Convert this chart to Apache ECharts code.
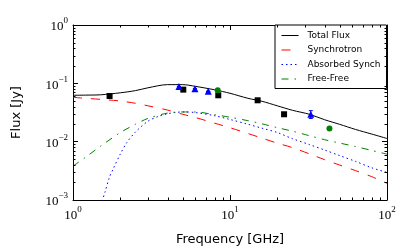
<!DOCTYPE html>
<html><head><meta charset="utf-8">
<script src="https://cdn.jsdelivr.net/npm/echarts@6/dist/echarts.min.js"></script>
<style>html,body{margin:0;padding:0;background:#fff}#c{width:407px;height:251px}</style>
</head><body><div id="c"></div>
<script>
// ---- data ----
const freqs = [1,1.2,1.5,2,2.5,3,4,5,6,8,10,13,16,20,25,32,40,50,63,80,100];
const totalFlux = [0.0624,0.0628,0.0636,0.0688,0.0750,0.0838,0.0950,0.0950,0.0889,0.0774,0.0675,0.0554,0.0492,0.0412,0.0345,0.0295,0.0238,0.0198,0.0162,0.0135,0.01134];
const synchrotron = [0.0576,0.0554,0.0531,0.0498,0.0455,0.0412,0.0348,0.0295,0.0260,0.0207,0.01735,0.0138,0.01148,0.00943,0.00790,0.00619,0.00492,0.00397,0.00319,0.00251,0.00193];
const freeFree = [0.00381,0.00539,0.00838,0.0143,0.0199,0.0250,0.0309,0.0323,0.0323,0.0290,0.0262,0.0229,0.0202,0.0174,0.01512,0.01267,0.01082,0.00946,0.00825,0.00707,0.00611];
const absFreqs = [1.53,1.6,1.7,1.8,2,2.2,2.5,3,3.5,4,4.5,5,6,8,10,13,16,20,25,32,40,50,63,80,100];
const absorbedSynch = [0.00095,0.00137,0.00238,0.00339,0.00611,0.00961,0.01464,0.0224,0.0271,0.0301,0.0317,0.0323,0.0316,0.0278,0.0240,0.0199,0.0170,0.01437,0.01125,0.00892,0.00721,0.00576,0.00460,0.00356,0.00297];
const sqFreq = [1.71,5.04,8.42,15.0,22.1];
const sqFlux = [0.0607,0.078,0.0624,0.0512,0.0295];
const triFreq = [4.73,5.98,7.27,32.7];
const triFlux = [0.088,0.081,0.073,0.0295];
const triErr = [0,0,0,0.0045];
const circFreq = [8.35,43.0];
const circFlux = [0.0759,0.0168];
const xMinorTicks = [2,3,4,5,6,7,8,9,20,30,40,50,60,70,80,90];
const yMinorTicks = [0.002,0.003,0.004,0.005,0.006,0.007,0.008,0.009,0.02,0.03,0.04,0.05,0.06,0.07,0.08,0.09,0.2,0.3,0.4,0.5,0.6,0.7,0.8,0.9];
const legendNames = ['Total Flux','Synchrotron','Absorbed Synch','Free-Free'];

const zip = (a,b) => a.map((v,i)=>[v,b[i]]);
const supFmt = v => { const e = Math.round(Math.log10(v)); return '{b|10}{s|' + (e<0 ? '\u2212'+(-e) : e) + '}'; };
const richLbl = {
  b:{fontFamily:'Liberation Serif',fontSize:13,color:'#000',verticalAlign:'bottom',lineHeight:17},
  s:{fontFamily:'Liberation Serif',fontSize:9,color:'#000',verticalAlign:'top',lineHeight:17}
};
const XMIN=1,XMAX=100,YMIN=0.001,YMAX=1;
const axLine = {show:true,lineStyle:{color:'#000',width:1}};
const tick = {show:true,inside:true,length:5,lineStyle:{color:'#000',width:1}};

const chart = echarts.init(document.getElementById('c'),null,{renderer:'canvas'});
chart.setOption({
  animation:false,
  backgroundColor:'#fff',
  grid:{left:73,right:20,top:25,bottom:51},
  legend:{
    data:legendNames, orient:'vertical', left:275, top:25,
    itemWidth:17, itemHeight:9, itemGap:5.5,
    padding:[6,6,5,6],
    borderColor:'#000', borderWidth:1, backgroundColor:'#fff', borderRadius:0,
    itemStyle:{opacity:0},
    lineStyle:{width:1},
    textStyle:{fontFamily:'DejaVu Sans',fontSize:9,color:'#000',padding:[0,0,0,4]}
  },
  xAxis:[
    {type:'log',logBase:10,min:XMIN,max:XMAX,position:'bottom',
     axisLine:axLine,axisTick:tick,splitLine:{show:false},
     axisLabel:{formatter:supFmt,rich:richLbl,margin:5},
     name:'Frequency [GHz]',nameLocation:'middle',nameGap:33,
     nameTextStyle:{fontFamily:'DejaVu Sans',fontSize:13,color:'#000'}},
    {type:'log',logBase:10,min:XMIN,max:XMAX,position:'top',
     axisLine:axLine,axisTick:tick,splitLine:{show:false},axisLabel:{show:false}}
  ],
  yAxis:[
    {type:'log',logBase:10,min:YMIN,max:YMAX,position:'left',
     axisLine:axLine,axisTick:tick,splitLine:{show:false},
     axisLabel:{formatter:supFmt,rich:richLbl,margin:5},
     name:'Flux [Jy]',nameLocation:'middle',nameGap:50,nameRotate:90,
     nameTextStyle:{fontFamily:'DejaVu Sans',fontSize:13,color:'#000'}},
    {type:'log',logBase:10,min:YMIN,max:YMAX,position:'right',
     axisLine:axLine,axisTick:tick,splitLine:{show:false},axisLabel:{show:false}}
  ],
  series:[
    {name:'Total Flux',type:'line',data:zip(freqs,totalFlux),showSymbol:false,symbol:'none',smooth:0.3,
     lineStyle:{color:'#000',width:1},itemStyle:{color:'#000'},z:5},
    {name:'Synchrotron',type:'line',data:zip(freqs,synchrotron),showSymbol:false,symbol:'none',smooth:0.3,
     lineStyle:{color:'#ff0000',width:1,type:[9,9]},itemStyle:{color:'#ff0000'},z:3},
    {name:'Absorbed Synch',type:'line',data:zip(absFreqs,absorbedSynch),showSymbol:false,symbol:'none',smooth:0.3,
     lineStyle:{color:'#0000ff',width:1,type:[1.5,3]},itemStyle:{color:'#0000ff'},z:3},
    {name:'Free-Free',type:'line',data:zip(freqs,freeFree),showSymbol:false,symbol:'none',smooth:0.3,
     lineStyle:{color:'#008000',width:1,type:[7,6,1.5,6]},itemStyle:{color:'#008000'},z:3},
    {name:'obsSq',type:'scatter',data:zip(sqFreq,sqFlux),symbol:'rect',symbolSize:6,itemStyle:{color:'#000',opacity:1},z:6},
    {name:'obsTriErr',type:'custom',z:6,
     data:triFreq.map((f,i)=>[f,triFlux[i]-triErr[i],triFlux[i]+triErr[i]]),
     renderItem:(p,api)=>{
       const lo=api.coord([api.value(0),api.value(1)]), hi=api.coord([api.value(0),api.value(2)]);
       return {type:'group',children:[
         {type:'line',shape:{x1:lo[0],y1:lo[1],x2:hi[0],y2:hi[1]},style:{stroke:'#0000ff',lineWidth:1}},
         {type:'line',shape:{x1:lo[0]-2,y1:lo[1],x2:lo[0]+2,y2:lo[1]},style:{stroke:'#0000ff',lineWidth:1}},
         {type:'line',shape:{x1:hi[0]-2,y1:hi[1],x2:hi[0]+2,y2:hi[1]},style:{stroke:'#0000ff',lineWidth:1}}
       ]};
     }},
    {name:'obsTri',type:'scatter',data:zip(triFreq,triFlux),symbol:'triangle',symbolSize:7,itemStyle:{color:'#0000ff',opacity:1},z:7},
    {name:'obsCirc',type:'scatter',data:zip(circFreq,circFlux),symbol:'circle',symbolSize:6,itemStyle:{color:'#008000',opacity:1},z:7},
    {name:'xMinor',type:'custom',silent:true,clip:false,z:10,
     data:xMinorTicks.map(v=>[v,YMIN]),
     renderItem:(p,api)=>{
       const b=api.coord([api.value(0),YMIN]), t=api.coord([api.value(0),YMAX]);
       const x=Math.round(b[0])+0.5;
       return {type:'group',children:[
         {type:'line',shape:{x1:x,y1:b[1],x2:x,y2:b[1]-2.5},style:{stroke:'#000',lineWidth:1}},
         {type:'line',shape:{x1:x,y1:t[1],x2:x,y2:t[1]+2.5},style:{stroke:'#000',lineWidth:1}}
       ]};
     }},
    {name:'yMinor',type:'custom',silent:true,clip:false,z:10,
     data:yMinorTicks.map(v=>[XMIN,v]),
     renderItem:(p,api)=>{
       const l=api.coord([XMIN,api.value(1)]), r=api.coord([XMAX,api.value(1)]);
       const y=Math.round(l[1])+0.5;
       return {type:'group',children:[
         {type:'line',shape:{x1:l[0],y1:y,x2:l[0]+2.5,y2:y},style:{stroke:'#000',lineWidth:1}},
         {type:'line',shape:{x1:r[0],y1:y,x2:r[0]-2.5,y2:y},style:{stroke:'#000',lineWidth:1}}
       ]};
     }}
  ]
});
</script></body></html>
